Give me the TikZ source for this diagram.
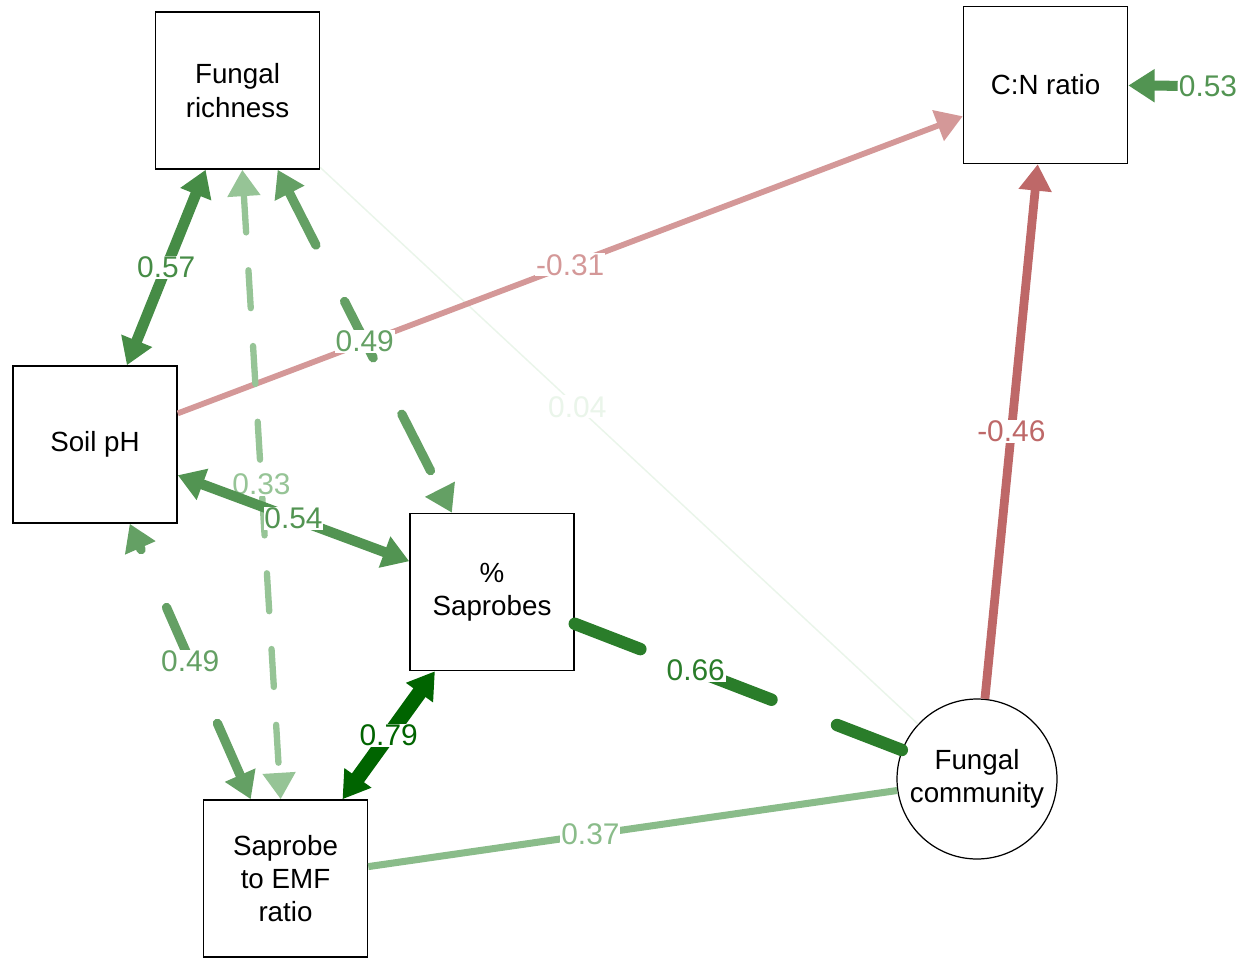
\documentclass[tikz,border=0pt]{standalone}
\usepackage{fontspec}
\setmainfont{Liberation Sans}
\usetikzlibrary{arrows.meta}

\definecolor{negA}{RGB}{212,152,152}
\definecolor{negB}{RGB}{190,104,104}
\definecolor{posA}{RGB}{0,100,0}
\definecolor{posB}{RGB}{42,125,42}
\definecolor{posC}{RGB}{70,140,70}
\definecolor{posD}{RGB}{82,148,82}
\definecolor{posE}{RGB}{100,160,100}
\definecolor{posF}{RGB}{138,188,138}
\definecolor{posG}{RGB}{150,196,150}
\definecolor{posH}{RGB}{234,245,234}

\tikzset{
  var/.style={draw, line width=0.9pt, minimum width=3.28cm, minimum height=3.14cm,
    inner sep=0pt, align=center, font=\fontsize{15.8}{18.9}\selectfont},
  lat/.style={draw, circle, line width=0.7pt, minimum size=3.2cm, inner sep=0pt,
    align=center, font=\fontsize{15.8}{18.9}\selectfont},
  wt/.style={fill=white, inner sep=0.5pt, font=\fontsize{17}{17}\selectfont},
}

\begin{document}
\begin{tikzpicture}[x=0.02cm, y=-0.02cm, >={Triangle[length=15pt,width=18pt]}]
  \useasboundingbox (0,0) rectangle (1250,959);

  \node[var] (fr) at (237.5,90.5) {Fungal\\richness};
  \node[var] (cn) at (1045.5,85) {C:N ratio};
  \node[var] (soil) at (95,444.5) {Soil pH};
  \node[var] (sap) at (492,592) {\%\\Saprobes};
  \node[var] (sem) at (285.5,878.5) {Saprobe\\to EMF\\ratio};
  \node[lat] (fc) at (977,779) {Fungal\\community};
  \node[wt, text=posD] (res) at (1208,86) {0.53};

  \draw[posH, line width=0.85pt] (fr) -- node[wt, pos=.43] {0.04} (fc);
  \draw[negA, line width=3.3pt, ->] (soil) -- node[wt] {-0.31} (cn);
  \draw[posF, line width=4pt] (sem) -- node[wt, pos=.42] {0.37} (fc);
  \draw[posB, line width=7.1pt, line cap=round, dash pattern=on 40pt off 40pt]
    (sap) -- node[wt, pos=.37] {0.66} (fc);
  \draw[posG, line width=3.6pt, line cap=round, dash pattern=on 21.6pt off 21.6pt, <->]
    (fr) -- node[wt] {0.33} (sem);
  \draw[posE, line width=5.3pt, line cap=round, dash pattern=on 36pt off 36pt,
    dash phase=2pt, <->] (fr) -- node[wt] {0.49} (sap);
  \draw[posC, line width=6.2pt, <->] (soil) -- node[wt] {0.57} (fr);
  \draw[posD, line width=5.8pt, <->] (soil) -- node[wt] {0.54} (sap);
  \draw[posE, line width=5.3pt, line cap=round, dash pattern=on 36pt off 36pt,
    dash phase=34pt, <->] (soil) -- node[wt] {0.49} (sem);
  \draw[posA, line width=8.5pt, <->] (sap) -- node[wt] {0.79} (sem);
  \draw[negB, line width=5pt, ->] (fc) -- node[wt] {-0.46} (cn);
  \draw[posD, line width=5.7pt, ->] (res) -- (cn);

\end{tikzpicture}
\end{document}
